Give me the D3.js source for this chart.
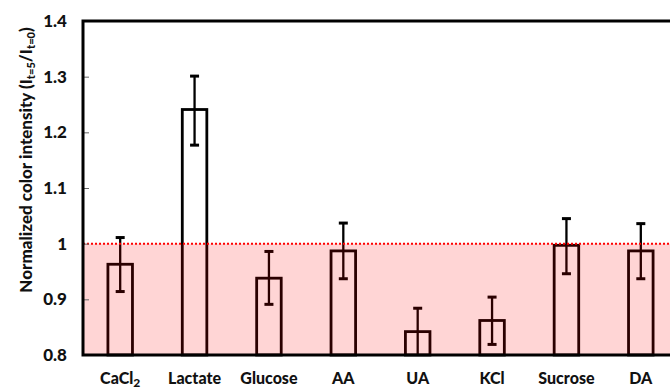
<!DOCTYPE html>
<html>
<head>
<meta charset="utf-8">
<script src="https://cdn.jsdelivr.net/npm/d3@7"></script>
<style>
  body { margin: 0; background: #fff; }
  svg { display: block; font-family: Lato, "Open Sans", sans-serif; font-weight: 900; }
</style>
</head>
<body>
<svg id="chart" width="670" height="389"></svg>
<script>
const CATEGORIES = ["CaCl2", "Lactate", "Glucose", "AA", "UA", "KCl", "Sucrose", "DA"];
const MEANS = [0.963, 1.241, 0.938, 0.987, 0.842, 0.862, 0.997, 0.987];
const ERR_HIGH = [1.011, 1.301, 0.986, 1.037, 0.884, 0.904, 1.045, 1.036];
const ERR_LOW = [0.914, 1.177, 0.891, 0.937, 0.800, 0.819, 0.946, 0.937];
const Y_TICKS = [0.8, 0.9, 1.0, 1.1, 1.2, 1.3, 1.4];
const THRESHOLD = 1.0;

const margin = { left: 83, top: 21, right: 678, bottom: 355 };

const svg = d3.select("#chart");

const x = d3.scaleBand()
  .domain(CATEGORIES)
  .range([margin.left, margin.right])
  .paddingInner(0.67)
  .paddingOuter(0.335);

const y = d3.scaleLinear()
  .domain([0.8, 1.4])
  .range([margin.bottom, margin.top]);

const data = CATEGORIES.map((c, i) => ({ name: c, v: MEANS[i], hi: ERR_HIGH[i], lo: ERR_LOW[i] }));

// bars first, the pink band is laid over them (that's why outlines look brownish)
const bars = svg.append("g");
bars.selectAll("rect")
  .data(data)
  .join("rect")
  .attr("x", d => x(d.name))
  .attr("y", d => y(d.v))
  .attr("width", x.bandwidth())
  .attr("height", d => y(0.8) - y(d.v))
  .attr("fill", "#fff")
  .attr("stroke", "#000")
  .attr("stroke-width", 2.8);

const err = svg.append("g").attr("stroke", "#000").attr("stroke-width", 2.3);
data.forEach(d => {
  const cx = x(d.name) + x.bandwidth() / 2;
  const lo = Math.max(d.lo, 0.8);
  err.append("line").attr("x1", cx).attr("x2", cx).attr("y1", y(d.hi)).attr("y2", y(lo));
  err.append("line").attr("x1", cx - 4.5).attr("x2", cx + 4.5).attr("y1", y(d.hi)).attr("y2", y(d.hi)).attr("stroke-width", 3);
  if (d.lo > 0.8) {
    err.append("line").attr("x1", cx - 4.5).attr("x2", cx + 4.5).attr("y1", y(d.lo)).attr("y2", y(d.lo)).attr("stroke-width", 3);
  }
});

svg.append("rect")
  .attr("x", margin.left)
  .attr("y", y(THRESHOLD))
  .attr("width", margin.right - margin.left)
  .attr("height", y(0.8) - y(THRESHOLD))
  .attr("fill", "#ff0000")
  .attr("fill-opacity", 0.165);

svg.append("line")
  .attr("x1", margin.left).attr("x2", margin.right)
  .attr("y1", y(THRESHOLD)).attr("y2", y(THRESHOLD))
  .attr("stroke", "#ff0000")
  .attr("stroke-width", 2)
  .attr("stroke-dasharray", "2,2");

// y axis with inner ticks
const yAxis = svg.append("g")
  .attr("transform", `translate(${margin.left},0)`)
  .call(d3.axisRight(y).tickValues(Y_TICKS).tickSize(6).tickFormat(""));
yAxis.select(".domain").remove();
yAxis.selectAll(".tick line").attr("stroke", "#666").attr("stroke-width", 1);

svg.append("g")
  .selectAll("text")
  .data(Y_TICKS)
  .join("text")
  .attr("x", 67)
  .attr("y", d => y(d))
  .attr("dy", "0.36em")
  .attr("text-anchor", "end")
  .attr("font-size", 17)
  .attr("fill", "#111")
  .text(d => d === 1 ? "1" : d3.format(".1f")(d));

// frame: left, top, bottom (right side is past the window)
const frame = svg.append("g").attr("stroke", "#000").attr("stroke-width", 3).attr("fill", "none");
frame.append("path")
  .attr("d", `M${margin.right},${margin.top}H${margin.left}V${margin.bottom}H${margin.right}`);

// x labels
const xl = svg.append("g")
  .selectAll("text")
  .data(CATEGORIES)
  .join("text")
  .attr("x", d => x(d) + x.bandwidth() / 2)
  .attr("y", 384)
  .attr("text-anchor", "middle")
  .attr("font-size", 16)
  .attr("fill", "#111");
xl.each(function (d) {
  const t = d3.select(this);
  if (d === "CaCl2") {
    t.append("tspan").text("CaCl");
    t.append("tspan").attr("font-size", 12).attr("dy", 3).text("2");
  } else {
    t.text(d);
  }
});

// y title
const title = svg.append("text")
  .attr("transform", "translate(32,160) rotate(-90)")
  .attr("text-anchor", "middle")
  .attr("font-size", 17)
  .attr("fill", "#111");
title.append("tspan").text("Normalized color intensity (I");
title.append("tspan").attr("font-size", 11).attr("dy", 3).text("t=5");
title.append("tspan").attr("dy", -3).text("/I");
title.append("tspan").attr("font-size", 11).attr("dy", 3).text("t=0");
title.append("tspan").attr("dy", -3).text(")");
</script>
</body>
</html>
